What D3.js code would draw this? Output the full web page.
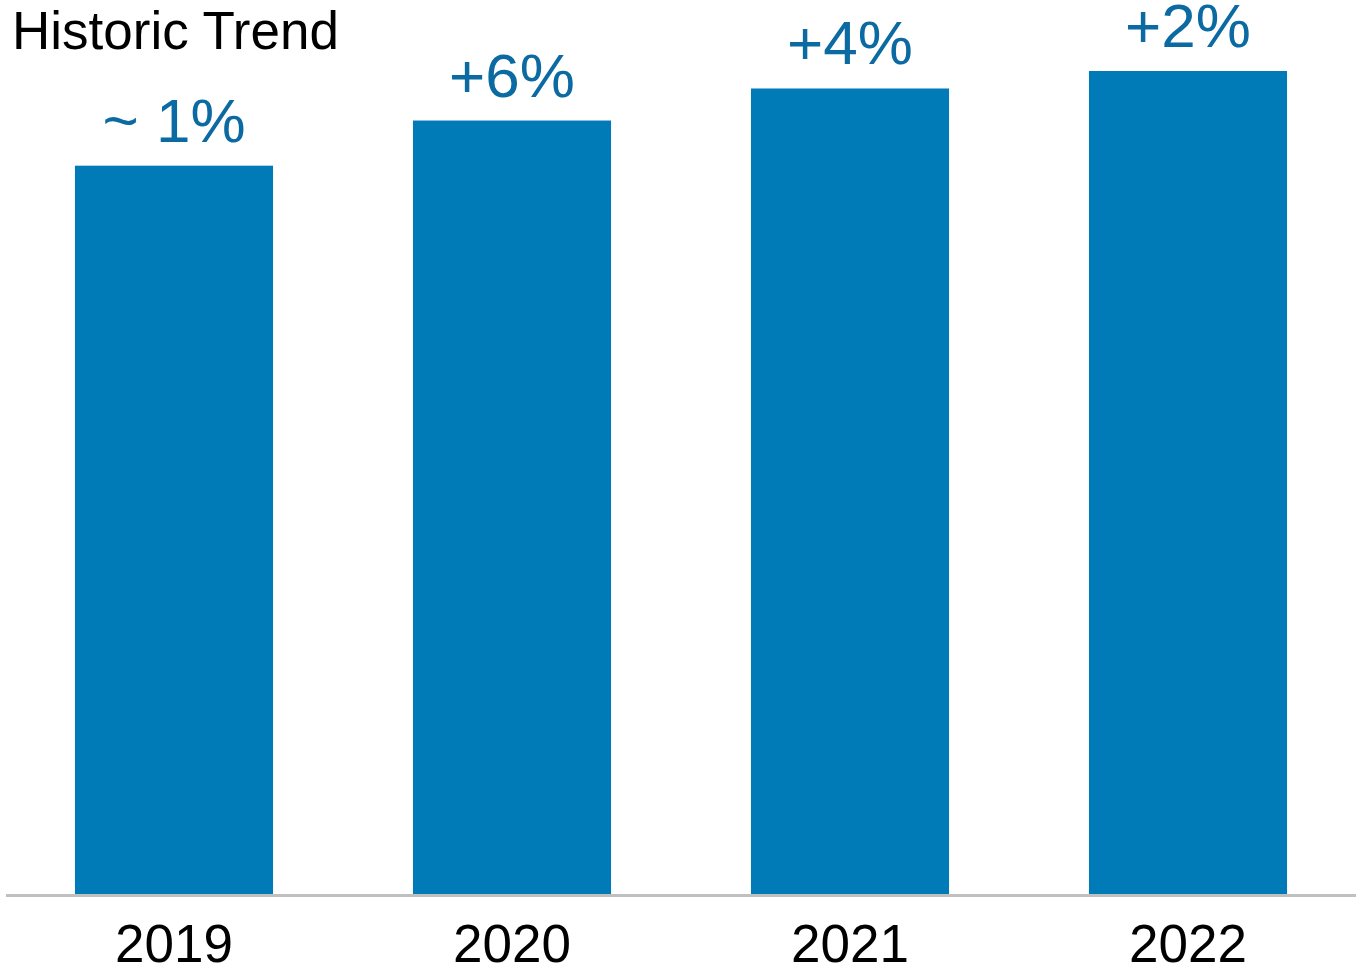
<!DOCTYPE html>
<html>
<head>
<meta charset="utf-8">
<script src="https://cdn.jsdelivr.net/npm/d3@7"></script>
<style>
  html, body { margin: 0; padding: 0; background: #fff; }
  svg { display: block; font-family: "Liberation Sans", Arial, sans-serif; }
</style>
</head>
<body>
<svg id="chart" width="1357" height="974"></svg>
<script>
const categories = ["2019", "2020", "2021", "2022"];
const values = [100, 106.2, 110.6, 113.0];
const labels = ["~ 1%", "+6%", "+4%", "+2%"];
const title = "Historic Trend";

const W = 1357, H = 974;
const baseY = 894;
const svg = d3.select("#chart");

const x = d3.scaleBand()
  .domain(categories)
  .range([5, 1357])
  .paddingInner(0.414)
  .paddingOuter(0.207);

const y = d3.scaleLinear()
  .domain([0, 113.0])
  .range([baseY, 71]);

svg.selectAll("rect.bar")
  .data(categories)
  .enter().append("rect")
  .attr("class", "bar")
  .attr("x", d => x(d))
  .attr("width", x.bandwidth())
  .attr("y", (d, i) => y(values[i]))
  .attr("height", (d, i) => baseY - y(values[i]))
  .attr("fill", "#007bb8");

// baseline axis
const axis = d3.axisBottom(x).tickSize(0).tickPadding(0);
const g = svg.append("g").attr("transform", `translate(0,${baseY})`).call(axis);
g.select(".domain").remove();
g.append("line")
  .attr("x1", 6).attr("x2", 1356)
  .attr("y1", 1.5).attr("y2", 1.5)
  .attr("stroke", "#c0c0c0").attr("stroke-width", 3);
g.selectAll(".tick text")
  .attr("dy", null)
  .attr("y", 68)
  .attr("font-size", "53px")
  .attr("font-family", "Liberation Sans, Arial, sans-serif")
  .attr("fill", "#000");

// value labels
svg.selectAll("text.val")
  .data(categories)
  .enter().append("text")
  .attr("class", "val")
  .attr("x", d => x(d) + x.bandwidth() / 2)
  .attr("y", (d, i) => y(values[i]) - 24)
  .attr("text-anchor", "middle")
  .attr("font-size", "62px")
  .attr("fill", "#0a6aa1")
  .text((d, i) => labels[i]);

svg.append("text")
  .attr("x", 12)
  .attr("y", 49)
  .attr("font-size", "53px")
  .attr("fill", "#000")
  .text(title);
</script>
</body>
</html>
